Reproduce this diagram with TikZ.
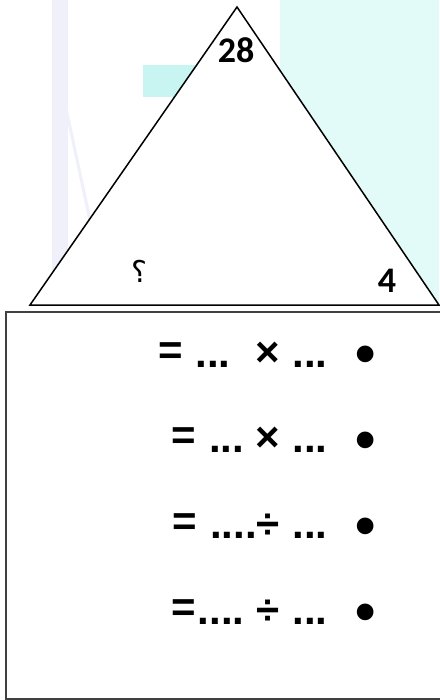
\documentclass[tikz,border=0pt]{standalone}
\usepackage{fontspec}
\TeXXeTstate=1
\newfontfamily\numfont{Carlito}[BoldFont=* Bold]
\newfontfamily\rowfont{Liberation Sans}[BoldFont=* Bold]
\newfontfamily\arabicfont[Script=Arabic]{DejaVu Sans}
\definecolor{wmcyan}{RGB}{226,250,248}
\definecolor{wmcyan2}{RGB}{200,244,242}
\definecolor{wmlav}{RGB}{240,240,250}
\begin{document}
\begin{tikzpicture}[x=1pt,y=-1pt,
  num/.style={inner sep=0pt,anchor=base,font=\numfont\bfseries\fontsize{36}{40}\selectfont},
  rowtxt/.style={inner sep=0pt,anchor=base,font=\rowfont\bfseries\fontsize{42}{46}\selectfont},
  bul/.style={inner sep=0pt,anchor=base,font=\rowfont\bfseries\fontsize{58}{62}\selectfont},
  qmark/.style={inner sep=0pt,anchor=base,font=\arabicfont\fontsize{30}{34}\selectfont}]
\useasboundingbox (0,0) rectangle (439,700);
\fill[white] (0,0) rectangle (439,700);
% faint watermark
\fill[wmcyan] (280,0) rectangle (439,305);
\fill[wmcyan2] (143,65) rectangle (195,97);
\fill[wmlav] (52,0) rectangle (68,300);
\draw[wmlav,line width=3pt] (62,90) -- (90,220);
% triangle
\coordinate (A) at (237,7);
\coordinate (B) at (30,305);
\coordinate (C) at (439,305);
\filldraw[fill=white,draw=black,line width=1.5pt,line join=miter] (A) -- (B) -- (C) -- cycle;
\node[num] (n28) at (236,63) {28};
\node[num] (n4) at (387,292) {4};
\node[qmark] (q) at (139,282) {\beginR ؟\endR};
% box
\draw[black!75,line width=2pt] (6,312) rectangle (441,699);
% rows
\node[rowtxt] (e1) at (171,364) {=};
\node[rowtxt] (d1a) at (213,367) {...};
\node[rowtxt] (o1) at (267.5,366) {×};
\node[rowtxt] (d1b) at (310,367) {...};
\node[bul] (b1) at (366,373.9) {•};
\node[rowtxt] (e2) at (183.5,449) {=};
\node[rowtxt] (d2a) at (226.5,452) {...};
\node[rowtxt] (o2) at (267.5,451) {×};
\node[rowtxt] (d2b) at (310,452) {...};
\node[bul] (b2) at (366,459.9) {•};
\node[rowtxt] (e3) at (184.5,535) {=};
\node[rowtxt] (d3a) at (233.5,538) {....};
\node[rowtxt] (o3) at (268.5,538) {÷};
\node[rowtxt] (d3b) at (310,538) {...};
\node[bul] (b3) at (366,545.9) {•};
\node[rowtxt] (e4) at (184,621) {=};
\node[rowtxt] (d4a) at (221,624) {....};
\node[rowtxt] (o4) at (268,624) {÷};
\node[rowtxt] (d4b) at (310,624) {...};
\node[bul] (b4) at (365.5,631.9) {•};
\end{tikzpicture}
\end{document}
